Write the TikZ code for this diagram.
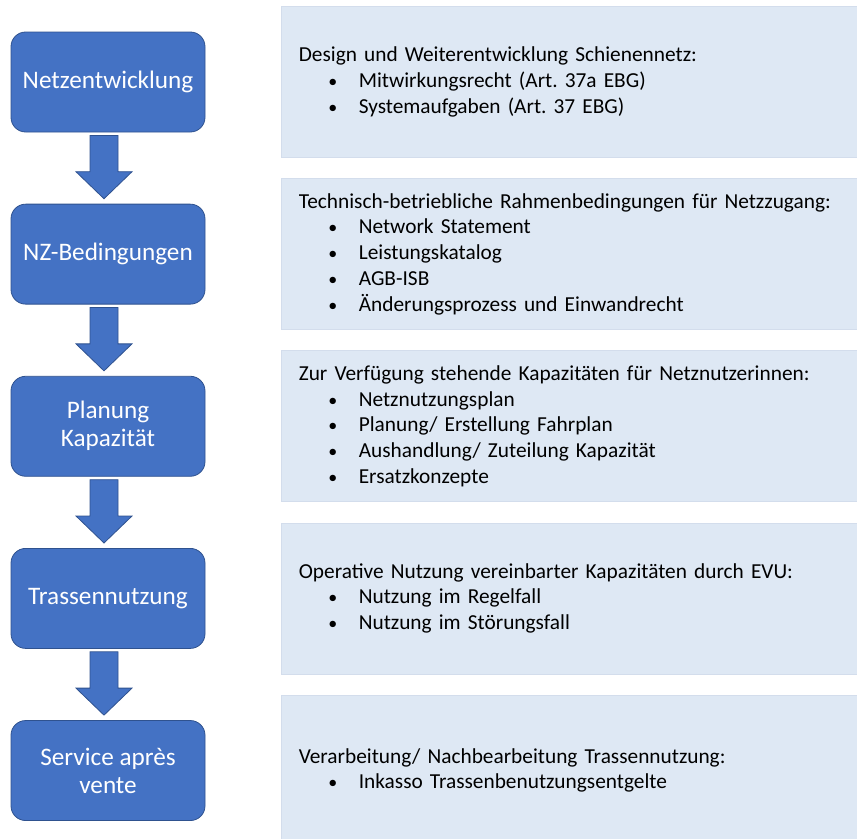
\documentclass[tikz,border=0pt]{standalone}
\usepackage{fontspec}
\setmainfont{Carlito}
\frenchspacing
\usetikzlibrary{positioning, calc}
\definecolor{stepblue}{HTML}{4472C4}
\definecolor{stepedge}{HTML}{2F528F}
\definecolor{infofill}{HTML}{DEE8F4}
\definecolor{infoedge}{HTML}{D3DDEC}
\newcommand\bulletitem[1]{\\\hspace*{25.5pt}\makebox[0pt]{\fontsize{13.5}{13.5}\selectfont\textbullet}\hspace*{19.5pt}#1}
\tikzset{
  stepbox/.style={
    draw=stepedge, fill=stepblue, rounded corners=11pt, line width=0.6pt,
    minimum width=145.5pt, minimum height=75pt, align=center,
    text=white, font=\fontsize{18.9}{21}\selectfont
  },
  infobox/.style={
    draw=infoedge, fill=infofill, line width=0.6pt,
    minimum width=435pt, minimum height=113.25pt,
    inner xsep=12.75pt, text width=409.5pt, align=left,
    font=\fontsize{16}{19.3}\selectfont, anchor=west
  },
  blockarrow/.style={draw=stepedge, fill=stepblue, line width=0.6pt},
  node distance=53.5pt
}

\begin{document}
\begin{tikzpicture}
    \useasboundingbox (0,0) rectangle (642.75pt,-629.25pt);

    % left column
    \node[stepbox] (netz) at (81pt,-61.5pt) {Netzentwicklung};
    \node[stepbox, below = of netz] (nzbed) {NZ-Bedingungen};
    \node[stepbox, below = of nzbed] (planung) {Planung\\Kapazität};
    \node[stepbox, below = of planung] (trasse) {Trassennutzung};
    \node[stepbox, below = of trasse] (service) {Service après\\vente};

    % right column
    \node[infobox, right = 57pt of netz] (netzinfo) {Design und Weiterentwicklung Schienennetz:
      \bulletitem{Mitwirkungsrecht (Art. 37a EBG)}
      \bulletitem{Systemaufgaben (Art. 37 EBG)}};
    \node[infobox, right = 57pt of nzbed] (nzbedinfo) {Technisch-betriebliche Rahmenbedingungen für Netzzugang:
      \bulletitem{Network Statement}
      \bulletitem{Leistungskatalog}
      \bulletitem{AGB-ISB}
      \bulletitem{Änderungsprozess und Einwandrecht}};
    \node[infobox, right = 57pt of planung] (planunginfo) {Zur Verfügung stehende Kapazitäten für Netznutzerinnen:
      \bulletitem{Netznutzungsplan}
      \bulletitem{Planung/ Erstellung Fahrplan}
      \bulletitem{Aushandlung/ Zuteilung Kapazität}
      \bulletitem{Ersatzkonzepte}};
    \node[infobox, right = 57pt of trasse] (trasseinfo) {Operative Nutzung vereinbarter Kapazitäten durch EVU:
      \bulletitem{Nutzung im Regelfall}
      \bulletitem{Nutzung im Störungsfall}};
    \node[infobox, right = 57pt of service] (serviceinfo) {Verarbeitung/ Nachbearbeitung Trassennutzung:
      \bulletitem{Inkasso Trassenbenutzungsentgelte}};

    % block arrows
    \foreach \a/\b in {netz/nzbed, nzbed/planung, planung/trasse, trasse/service}
      \draw[blockarrow] ($(\a.south)+(-13.5pt,-2.25pt)$) -- ($(\a.south)+(7.5pt,-2.25pt)$)
        -- ($(\b.north)+(7.5pt,24pt)$) -- ($(\b.north)+(18pt,24pt)$)
        -- ($(\b.north)+(-3pt,3.75pt)$)
        -- ($(\b.north)+(-24pt,24pt)$) -- ($(\b.north)+(-13.5pt,24pt)$) -- cycle;
\end{tikzpicture}
\end{document}
